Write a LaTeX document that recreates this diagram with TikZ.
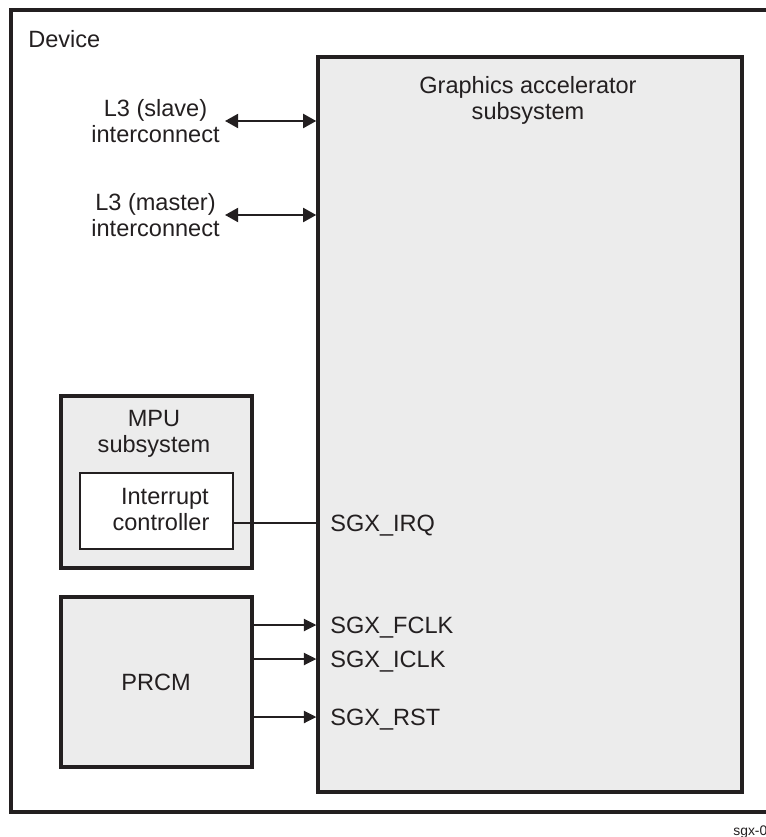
\documentclass[tikz,border=0pt]{standalone}
\usepackage{fontspec}
\setmainfont{Liberation Sans}
\usepackage{xcolor}
\usepackage{tikz}
\usetikzlibrary{arrows.meta,positioning,fit}
\definecolor{inkgray}{RGB}{35,31,32}
\definecolor{boxgray}{RGB}{236,236,236}
\tikzset{
  frame/.style={draw=inkgray,line width=2pt,inner sep=0pt},
  block/.style={draw=inkgray,fill=boxgray,line width=2pt,inner sep=0pt},
  innerblock/.style={draw=inkgray,fill=white,line width=0.9pt,inner sep=0pt},
  lbl/.style={text=inkgray,font=\fontsize{13.4}{14.8}\selectfont,align=center,inner sep=0pt},
  pin/.style={lbl,anchor=west,text depth=0pt},
  busarr/.style={{Triangle[length=7.5pt,width=8pt]}-{Triangle[length=7.5pt,width=8pt]},line width=1.3pt,draw=inkgray},
  sigarr/.style={-{Triangle[length=7pt,width=7pt]},line width=0.6pt,draw=inkgray},
  sigline/.style={line width=0.6pt,draw=inkgray}
}

\begin{document}
\begin{tikzpicture}[x=0.02cm,y=-0.02cm]
  \useasboundingbox (0,0) rectangle (766,837);
  \clip (0,0) rectangle (766,837);
  % outer device frame, right side runs off the page
  \node[frame,fit={(11,10)(800,812)}] (device) {};
  \node[lbl,anchor=base west] (devlbl) at (28,48) {Device};
  % blocks
  \node[block,fit={(318,57)(742,792)}] (gfx) {};
  \node[lbl] (gfxlbl) at (528,100) {Graphics accelerator\\subsystem};
  \node[block,fit={(61,396)(252,568)}] (mpu) {};
  \node[lbl] (mpulbl) at (154,434) {MPU\\subsystem};
  \node[innerblock,fit={(80,473)(233,549)}] (intc) {};
  \node[lbl] (intclbl) at (161,510) {\,\,Interrupt\\controller};
  \node[block,fit={(61,597)(252,767)}] (prcm) {};
  \node[lbl] (prcmlbl) at (156,682) {PRCM};
  % interconnects
  \node[lbl,anchor=east] (l3s) at (220,121) {L3 (slave)\\interconnect};
  \node[lbl,anchor=east] (l3m) at (220,215) {L3 (master)\\interconnect};
  \draw[busarr] ([xshift=0.1cm]l3s.east) -- (l3s.east -| gfx.west);
  \draw[busarr] ([xshift=0.1cm]l3m.east) -- (l3m.east -| gfx.west);
  % signals into the graphics block
  \node[pin] (irq) at (330,523) {SGX\_IRQ};
  \node[pin] (fclk) at (330,625) {SGX\_FCLK};
  \node[pin] (iclk) at (330,659) {SGX\_ICLK};
  \node[pin] (rst) at (330,717) {SGX\_RST};
  \draw[sigline] (irq.west -| intc.east) -- (irq.west -| gfx.west);
  \foreach \sig in {fclk,iclk,rst}{
    \draw[sigarr] (\sig.west -| prcm.east) -- (\sig.west -| gfx.west);
  }
  \node[text=inkgray,font=\fontsize{7.9}{9}\selectfont,anchor=base west,inner sep=0pt] (figid) at (733,835) {sgx-0};
\end{tikzpicture}
\end{document}
